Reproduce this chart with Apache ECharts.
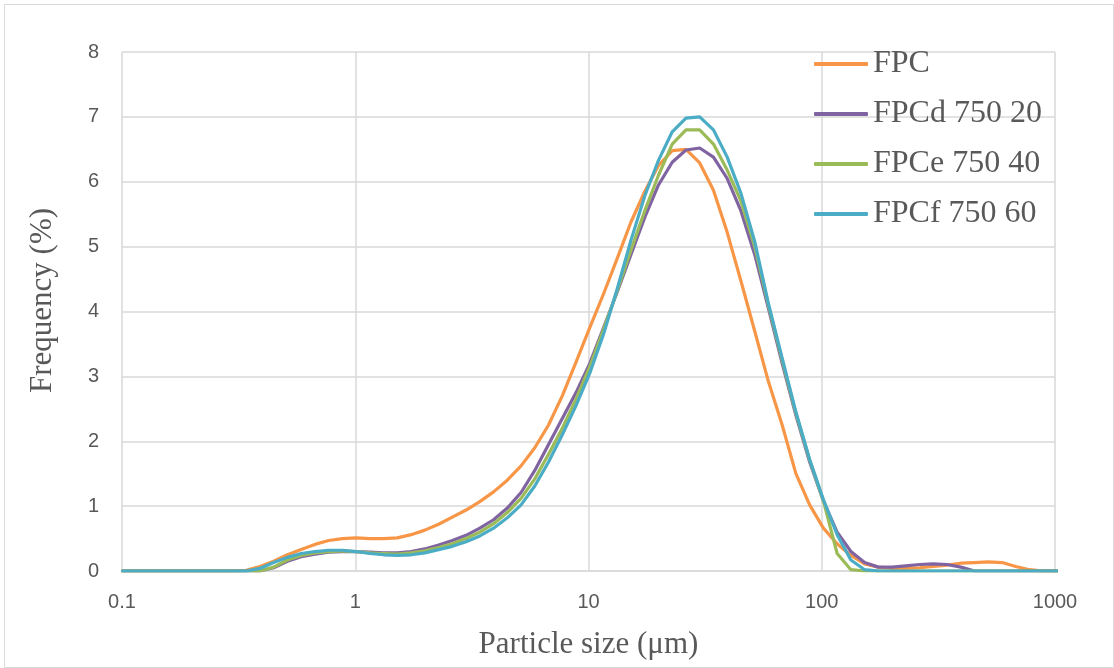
<!DOCTYPE html>
<html><head><meta charset="utf-8">
<script src="https://cdn.jsdelivr.net/npm/echarts@6/dist/echarts.min.js"></script>
<style>html,body{margin:0;padding:0;background:#fff}#c{width:1114px;height:668px}</style>
</head><body><div id="c"></div>
<script>
// Particle size classes (µm)
const sizes = [0.1005,0.1151,0.1318,0.1509,0.1729,0.1980,0.2268,0.2597,0.2975,0.3407,0.3902,0.4469,0.5119,0.5863,0.6715,0.7691,0.8808,1.0088,1.1554,1.3233,1.5156,1.7358,1.9880,2.2769,2.6077,2.9866,3.4206,3.9175,4.4867,5.1386,5.8852,6.7403,7.7197,8.8414,10.126,11.597,13.282,15.212,17.423,19.954,22.853,26.174,29.977,34.333,39.321,45.034,51.577,59.072,67.655,77.485,88.743,101.64,116.40,133.32,152.69,174.87,200.28,229.38,262.71,300.88,344.60,394.67,452.01,517.68,592.90,679.05,777.71,890.71,1020.13];
// Frequency (%)
const fpc  = [0,0,0,0,0,0,0,0,0,0.01,0.07,0.15,0.25,0.33,0.41,0.47,0.50,0.51,0.50,0.50,0.51,0.56,0.63,0.72,0.83,0.94,1.07,1.22,1.40,1.62,1.90,2.25,2.70,3.22,3.75,4.27,4.82,5.38,5.85,6.25,6.48,6.50,6.29,5.87,5.22,4.47,3.70,2.92,2.25,1.50,1.02,0.66,0.42,0.24,0.11,0.06,0.04,0.04,0.05,0.07,0.09,0.12,0.13,0.14,0.13,0.07,0.02,0,0];
const fpcd = [0,0,0,0,0,0,0,0,0,0,0,0.05,0.15,0.22,0.26,0.29,0.30,0.30,0.29,0.28,0.28,0.30,0.34,0.40,0.47,0.55,0.66,0.79,0.97,1.21,1.55,1.95,2.35,2.75,3.20,3.75,4.30,4.88,5.45,5.95,6.30,6.49,6.52,6.38,6.05,5.55,4.88,4.05,3.20,2.40,1.68,1.08,0.60,0.30,0.13,0.06,0.06,0.08,0.10,0.11,0.10,0.06,0,0,0,0,0,0,0];
const fpce = [0,0,0,0,0,0,0,0,0,0,0,0.06,0.17,0.24,0.28,0.30,0.31,0.30,0.28,0.27,0.26,0.28,0.31,0.36,0.42,0.50,0.60,0.73,0.90,1.12,1.42,1.80,2.20,2.65,3.15,3.72,4.32,4.95,5.55,6.10,6.58,6.80,6.80,6.58,6.18,5.70,5.00,4.10,3.25,2.43,1.71,1.08,0.27,0.02,0,0,0,0,0,0,0,0,0,0,0,0,0,0,0];
const fpcf = [0,0,0,0,0,0,0,0,0,0,0.04,0.13,0.21,0.27,0.30,0.32,0.32,0.30,0.27,0.25,0.24,0.25,0.28,0.33,0.38,0.45,0.54,0.66,0.82,1.02,1.31,1.68,2.10,2.55,3.05,3.65,4.35,5.10,5.78,6.33,6.77,6.98,7.00,6.80,6.38,5.82,5.08,4.12,3.28,2.45,1.72,1.10,0.56,0.17,0.02,0,0,0,0,0,0,0,0,0,0,0,0,0,0];

const seriesNames = ['FPC','FPCd 750 20','FPCe 750 40','FPCf 750 60'];
const seriesValues = [fpc, fpcd, fpce, fpcf];
const colors = ['#F79646','#8064A2','#9BBB59','#4BACC6'];
const xTitle = 'Particle size (μm)';
const yTitle = 'Frequency (%)';

const chart = echarts.init(document.getElementById('c'), null, {renderer:'canvas'});
const gridColor = '#d9d9d9';
const labelColor = '#595959';
chart.setOption({
  animation: false,
  backgroundColor: '#ffffff',
  color: colors,
  graphic: [{
    type: 'rect', left: 2, top: 2, silent: true,
    shape: {width: 1109, height: 663},
    style: {fill: 'none', stroke: '#d9d9d9', lineWidth: 1}
  }],
  grid: {left: 122, right: 59, top: 52, bottom: 97, containLabel: false},
  legend: {
    orient: 'vertical', left: 809, top: 43,
    icon: 'roundRect', itemWidth: 54, itemHeight: 4, itemGap: 18,
    textStyle: {fontFamily: 'Liberation Serif', fontSize: 32, lineHeight: 31, color: labelColor},
    data: seriesNames
  },
  xAxis: {
    type: 'log', logBase: 10, min: 0.1, max: 1000,
    name: xTitle, nameLocation: 'middle', nameGap: 58,
    nameTextStyle: {fontFamily: 'Liberation Serif', fontSize: 31, color: labelColor},
    axisLine: {show: true, lineStyle: {color: gridColor, width: 1.5}},
    axisTick: {show: false},
    minorTick: {show: false},
    splitLine: {show: true, lineStyle: {color: gridColor, width: 1.5}},
    axisLabel: {fontFamily: 'Liberation Sans', fontSize: 20, color: labelColor, margin: 21,
      formatter: v => String(v)}
  },
  yAxis: {
    type: 'value', min: 0, max: 8, interval: 1,
    name: yTitle, nameLocation: 'middle', nameGap: 64, nameRotate: 90,
    nameTextStyle: {fontFamily: 'Liberation Serif', fontSize: 31, color: labelColor, padding: [0, 0, 0, 22]},
    axisLine: {show: false},
    axisTick: {show: false},
    splitLine: {show: true, lineStyle: {color: gridColor, width: 1.5}},
    axisLabel: {fontFamily: 'Liberation Sans', fontSize: 20, color: labelColor, margin: 23}
  },
  series: seriesNames.map((n, k) => ({
    name: n, type: 'line', showSymbol: false, smooth: false, clip: true,
    lineStyle: {width: 3.2, color: colors[k], cap: 'round', join: 'round'},
    itemStyle: {color: colors[k]},
    data: sizes.map((s, i) => [s, seriesValues[k][i]])
  }))
});
</script></body></html>
